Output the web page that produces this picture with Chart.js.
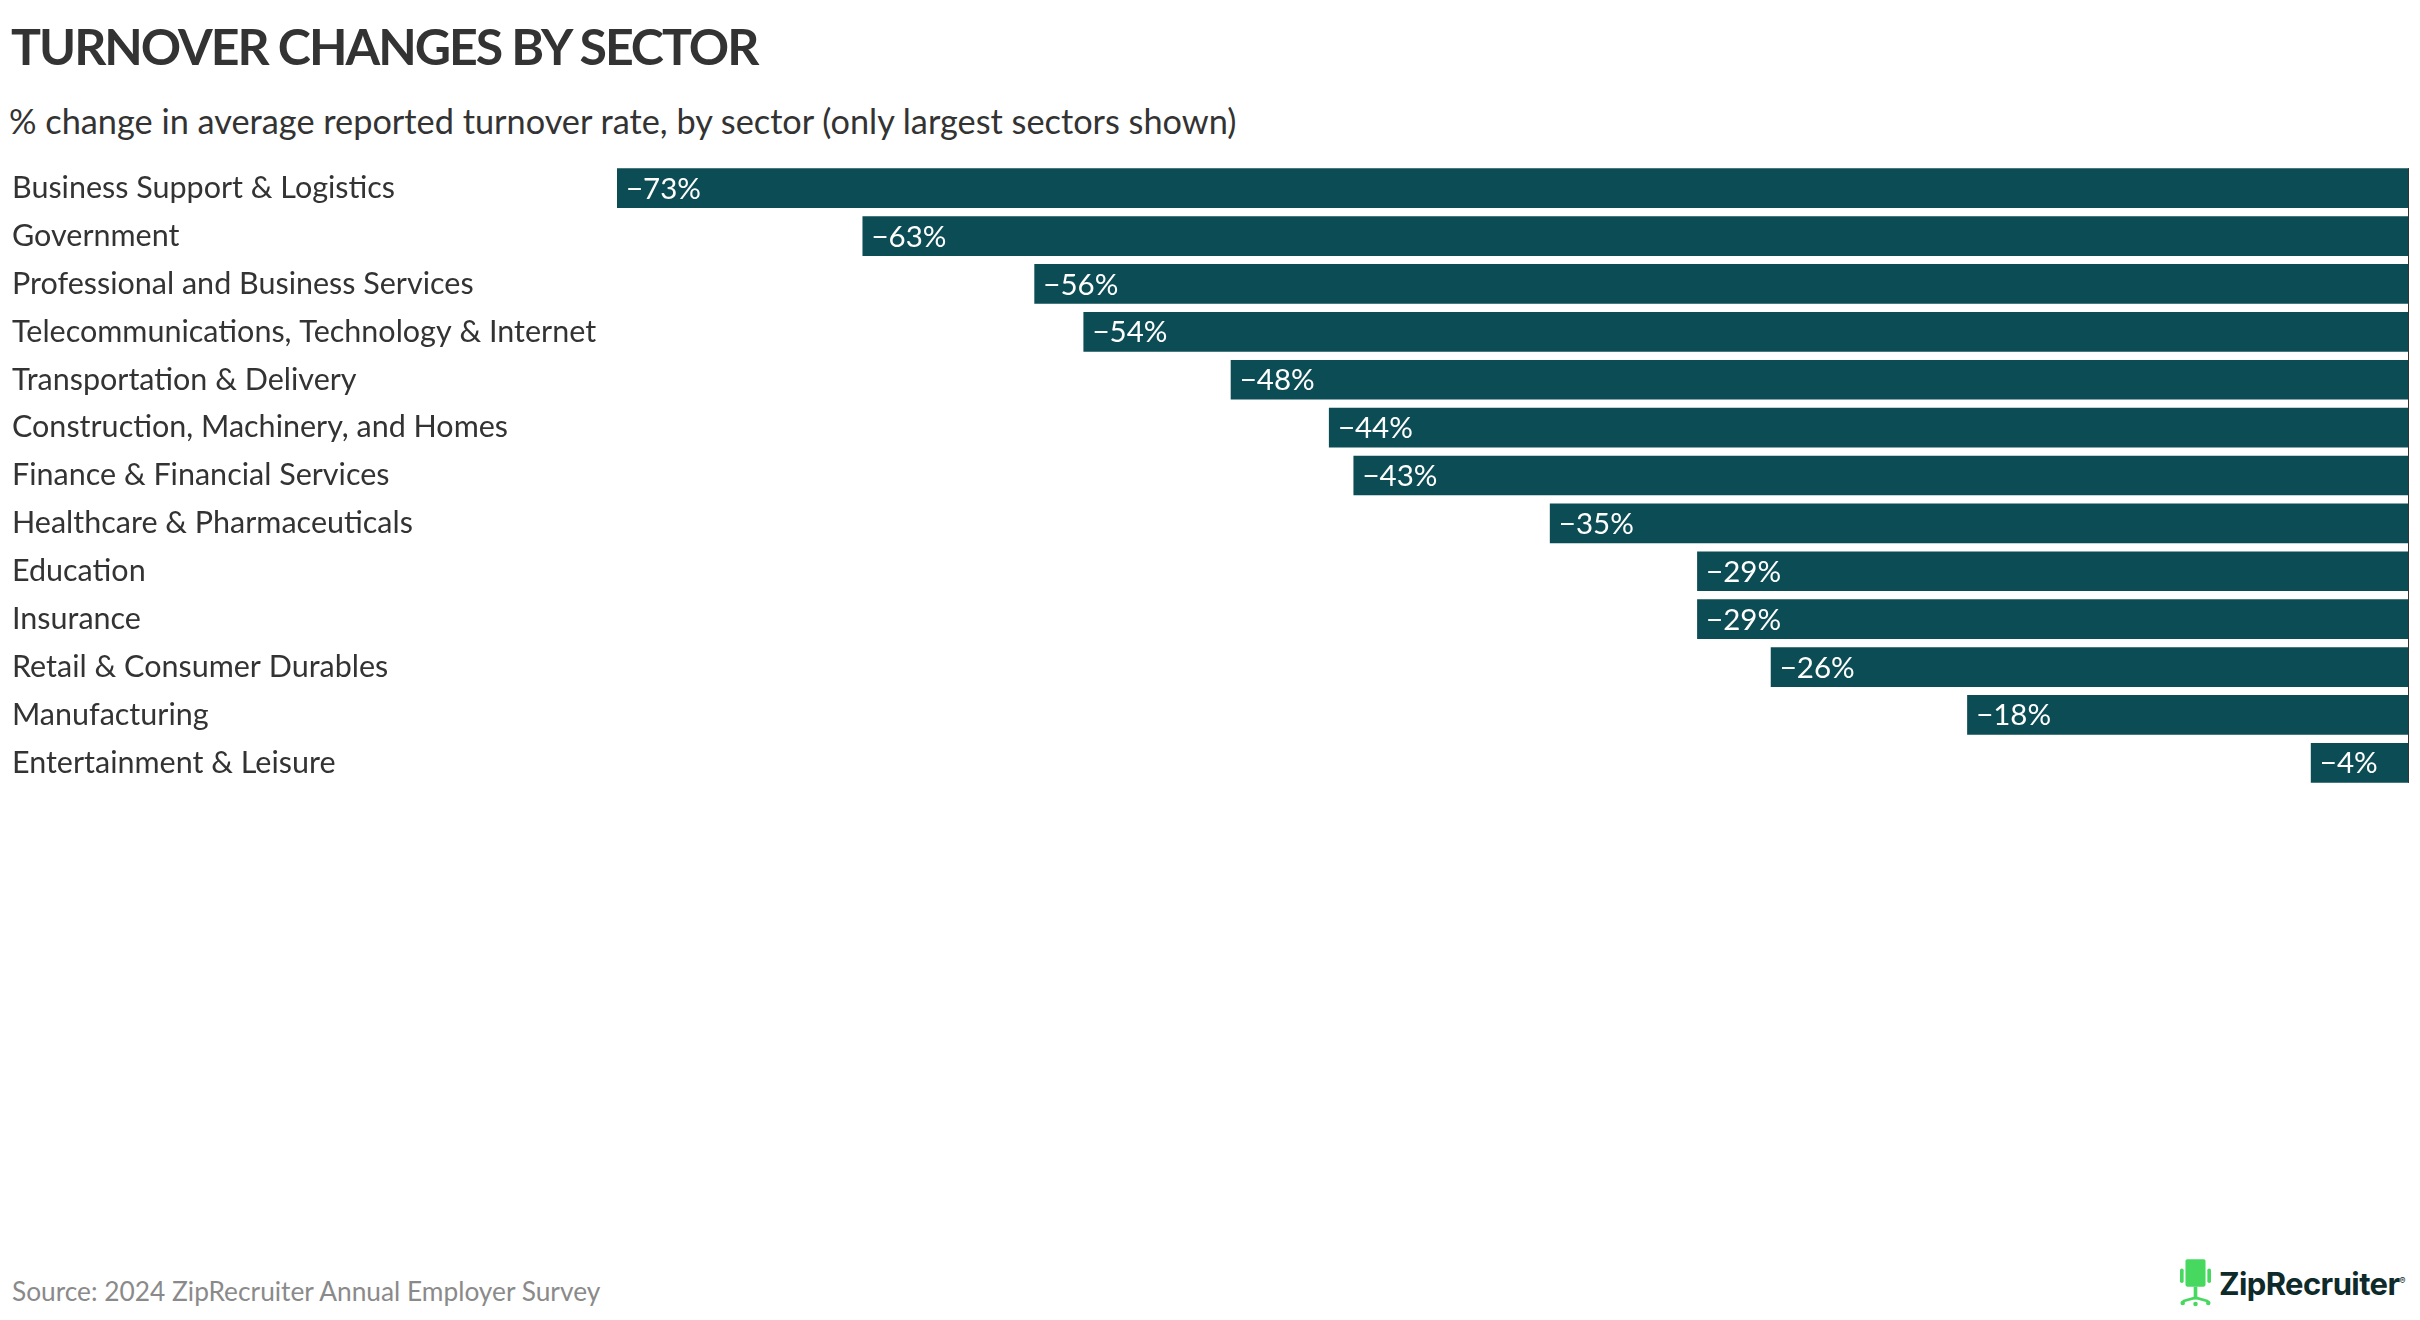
<!DOCTYPE html>
<html>
<head>
<meta charset="utf-8">
<script src="https://cdn.jsdelivr.net/npm/chart.js@4.4.1/dist/chart.umd.min.js"></script>
<style>
  html, body { margin: 0; padding: 0; background: #fff; }
  body { width: 2420px; height: 1320px; position: relative; overflow: hidden; font-family: Lato, "Open Sans", sans-serif; color: #333; }
  #title { position: absolute; left: 11px; top: 16px; font-size: 50px; font-weight: 700; letter-spacing: -2px; }
  #subtitle { position: absolute; left: 9px; top: 100px; font-size: 34.3px; }
  #chartBox { position: absolute; left: 12px; top: 146px; width: 2397px; height: 659px; }
  #source { position: absolute; left: 12px; top: 1275px; font-size: 26.3px; color: #8a8a8a; }
  #logo { position: absolute; left: 2180px; top: 1257px; height: 52px; display: flex; align-items: center; }
  #logo span { font-family: Inter, Roboto, sans-serif; font-weight: 700; font-size: 31px; color: #0f2a2a; letter-spacing: -0.6px; margin-left: 8px; }
  #logo sup { font-size: 9px; font-weight: 400; color: #0f2a2a; }
</style>
</head>
<body>
<div id="title">TURNOVER CHANGES BY SECTOR</div>
<div id="subtitle">% change in average reported turnover rate, by sector (only largest sectors shown)</div>
<div id="chartBox"><canvas id="turnoverChart"></canvas></div>
<div id="source">Source: 2024 ZipRecruiter Annual Employer Survey</div>
<div id="logo">
  <svg width="31" height="50" viewBox="0 0 34 52">
    <rect x="6" y="0" width="22" height="30" rx="2" fill="#47d95f"/>
    <rect x="0" y="10" width="4" height="16" rx="2" fill="#47d95f"/>
    <rect x="30" y="10" width="4" height="16" rx="2" fill="#47d95f"/>
    <rect x="15" y="30" width="4" height="14" fill="#47d95f"/>
    <path d="M3 46 L17 42 L31 46" stroke="#47d95f" stroke-width="3" fill="none"/>
    <circle cx="3" cy="48" r="2.5" fill="#47d95f"/>
    <circle cx="31" cy="48" r="2.5" fill="#47d95f"/>
    <circle cx="17" cy="49" r="2.5" fill="#47d95f"/>
  </svg>
  <span>ZipRecruiter<sup>®</sup></span>
</div>

<script>
document.addEventListener('DOMContentLoaded', () => {

  // sectors, top to bottom
  const sectors = [
    'Business Support & Logistics',
    'Government',
    'Professional and Business Services',
    'Telecommunications, Technology & Internet',
    'Transportation & Delivery',
    'Construction, Machinery, and Homes',
    'Finance & Financial Services',
    'Healthcare & Pharmaceuticals',
    'Education',
    'Insurance',
    'Retail & Consumer Durables',
    'Manufacturing',
    'Entertainment & Leisure'
  ];

  // % change in turnover rate
  const changes = [-73, -63, -56, -54, -48, -44, -43, -35, -29, -29, -26, -18, -4];

  const barColor = '#0b4c55';

  // white value labels at the left end of each bar, plus the zero line
  const valueLabels = {
    id: 'valueLabels',
    afterDatasetsDraw(chart) {
      const ctx = chart.ctx;
      const meta = chart.getDatasetMeta(0);
      ctx.save();
      ctx.font = '29.5px Lato, "Open Sans", sans-serif';
      ctx.fillStyle = '#ffffff';
      ctx.textAlign = 'left';
      ctx.textBaseline = 'middle';
      meta.data.forEach((bar, i) => {
        const left = Math.min(bar.x, bar.base);
        ctx.fillText('\u2212' + Math.abs(changes[i]) + '%', left + 9, bar.y + 1);
      });
      const zero = chart.scales.x.getPixelForValue(0);
      ctx.strokeStyle = '#333333';
      ctx.lineWidth = 2;
      ctx.beginPath();
      ctx.moveTo(zero, meta.data[0].y - meta.data[0].height / 2);
      ctx.lineTo(zero, meta.data[meta.data.length - 1].y + meta.data[0].height / 2);
      ctx.stroke();
      ctx.restore();
    }
  };

  const ctx = document.getElementById('turnoverChart').getContext('2d');
  new Chart(ctx, {
    type: 'bar',
    data: {
      labels: sectors,
      datasets: [{
        data: changes,
        backgroundColor: barColor,
        borderWidth: 0,
        barPercentage: 1,
        categoryPercentage: 0.83
      }]
    },
    options: {
      indexAxis: 'y',
      responsive: true,
      maintainAspectRatio: false,
      animation: false,
      layout: { padding: 0 },
      plugins: {
        legend: { display: false },
        tooltip: { enabled: false }
      },
      scales: {
        x: {
          display: false,
          min: -73,
          max: 0
        },
        y: {
          grid: { display: false },
          border: { display: false },
          ticks: {
            crossAlign: 'far',
            padding: 0,
            color: '#333333',
            font: { family: 'Lato, "Open Sans", sans-serif', size: 30.5 }
          },
          afterFit(axis) { axis.width = 605; }
        }
      }
    },
    plugins: [valueLabels]
  });
});
</script>
</body>
</html>
